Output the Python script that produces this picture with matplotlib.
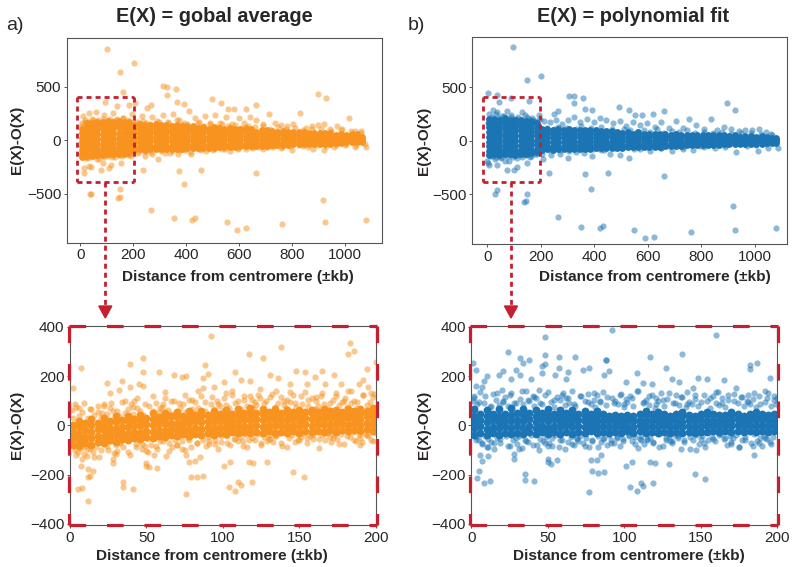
import numpy as np
import matplotlib
matplotlib.use('Agg')
import matplotlib.pyplot as plt
from matplotlib.lines import Line2D
from matplotlib.patches import Polygon

plt.rcParams['font.family'] = ['Liberation Sans', 'DejaVu Sans']
plt.rcParams['lines.scale_dashes'] = False

ORANGE = '#F7931E'
BLUE = '#1B75B5'
RED = '#C4202F'
DARK = '#2A2627'

# The dense bands can't be read dot by dot, so the core and edge values are
# estimates of the band. Outliers are read directly from the picture.

# top left panel, global average
a_out_x = [102,204,152,161,311,329,363,329,366,393,497,531,898,927,93,208,664,625,557,581,139,185,266,251,37,42,150,150,142,267,353,422,434,554,592,627,762,926,1079,919,392,372,455,236,664,13,14,40,78,110,118,154,86,33]
a_out_y = [855,724,637,451,507,497,482,420,358,342,382,345,435,395,361,345,333,295,289,292,320,333,326,298,-504,-504,-457,-525,-538,-653,-728,-743,-725,-762,-833,-821,-780,-765,-746,-557,-407,-283,-277,-277,-308,-255,-302,-246,-277,-258,-230,-208,-211,-240]
a_halo_x = [10,20,35,48,60,75,90,108,125,140,160,178,195,215,232,250,272,290,312,330,350,372,392,410,432,450,470,490,510,530,552,575,600,620,642,665,690,712,735,758,782,805,830,852,875,900,920,945,970,990,1015,1040,1060,8,28,52,72,95,120,148,172,192,222,245,268,295,320,345,368,395,420,448,475,505,535,565,595,625,655,690,725,760,800,840,880,920,960,1000,1040,1078]
a_halo_y = [225,170,255,190,265,160,235,180,255,195,210,175,245,175,225,160,215,180,240,170,250,190,160,275,205,170,225,165,240,160,215,150,205,165,215,185,150,245,165,145,130,150,255,115,135,140,155,110,135,110,205,90,70,-130,-165,-145,-175,-120,-155,-135,-115,-145,-110,-150,-105,-170,-120,-100,-130,-95,-125,-85,-100,-70,-85,-100,-70,-80,-65,-85,-60,-70,-95,-55,-85,-90,-65,-45,-60,-65]
a_core_x = [5,25,45,65,85,105,125,145,165,185,205,225,245,265,285,305,325,345,365,385,405,425,445,465,485,505,525,545,565,585,605,625,645,665,685,705,725,745,765,785,805,825,845,865,885,905,925,945,965,985,1005,1025,1045,1065]
a_core_y = [[-95,-55,-15,25,70,-130,110,-155],[-85,-45,-5,40,85,-120,125,-150,160],[-90,-40,5,50,100,-125,135,-150,165],[-75,-30,15,60,105,-110,140,-135,170],[-80,-35,10,55,110,-115,145,-140,175],[-70,-25,20,65,115,-105,150,-130,180],[-75,-30,15,55,105,-110,140,-130,170],[-65,-20,25,70,120,-100,150,-125,180],[-70,-25,20,60,110,-105,145,-125,175],[-60,-15,30,75,115,-95,150,-120,175],[-60,-20,25,70,110,-90,145],[-55,-15,30,70,115,-85,150],[-60,-15,25,65,105,-90,140],[-55,-10,30,75,110,-85,145],[-50,-10,35,70,115,-85,150],[-55,-15,25,65,105,-85,140],[-50,-5,35,75,110,-80,145],[-50,-10,30,70,100,-80,135],[-45,-5,40,75,110,-80,140],[-50,-5,30,65,100,-80,130],[-45,0,40,75,105,-75,135],[-45,-5,35,70,110,-75,135],[-40,0,40,80,-70,115],[-45,-5,30,65,95,-70,125],[-40,0,35,75,-70,110],[-40,5,45,85,-70,120],[-35,5,40,80,-65,115],[-40,0,35,70,-65,105],[-35,5,45,85,-60,115],[-35,0,35,75,-60,105],[-30,5,40,80,-55,110],[-30,10,50,85,-55,115],[-30,5,40,75,-55,105],[-25,10,45,-50,80],[-30,5,40,70,-50,100],[-25,10,45,75,-50,100],[-20,15,50,-45,85],[-25,10,45,-45,80],[-15,20,55,-40,85],[-20,15,45,-40,75],[-15,20,50,-35,80],[-15,15,45,-35,75],[-10,20,50,-35,75],[-15,15,45,-35,70],[-10,20,45,-30,70],[-10,15,40,-30,65],[-5,20,45,-30,70],[-10,15,40,-30,65],[-5,20,45,-25],[-5,20,40,-25,60],[0,25,50,-20],[0,25,45,-20,60],[0,20,40,-15,55],[-5,15,30,-15]]

# top right panel, polynomial fit
b_out_x = [97,199,147,4,35,44,88,157,305,325,359,324,364,390,494,529,895,924,660,620,263,248,552,577,30,35,147,144,138,263,350,420,431,550,588,623,760,924,1078,917,387,367,451,230,659,5,37,73,101,110,148,82,2,-2]
b_out_y = [870,602,568,441,422,363,394,373,419,419,398,351,295,289,317,289,348,286,273,252,273,248,236,236,-494,-463,-494,-559,-571,-711,-801,-814,-798,-835,-910,-894,-854,-835,-817,-609,-447,-311,-304,-304,-332,-230,-224,-270,-276,-248,-208,-189,-205,-190]
b_halo_x = [8,22,38,55,72,90,110,130,150,172,192,212,235,258,280,302,325,348,372,398,420,445,470,495,520,545,572,598,625,650,680,705,730,755,780,810,835,860,885,912,940,965,990,1015,1040,1065,12,30,50,68,88,112,135,160,185,210,240,270,300,330,360,392,425,460,495,530,570,610,650,690,730,770,810,850,890,930,970,1010,1050,1085]
b_halo_y = [250,285,270,230,275,220,200,270,225,190,235,180,175,190,155,190,220,170,205,170,210,195,160,185,140,170,150,165,130,170,120,180,120,205,150,110,205,95,125,105,90,95,100,110,85,50,-140,-170,-150,-185,-135,-160,-120,-150,-125,-170,-130,-120,-165,-110,-115,-145,-90,-120,-130,-160,-80,-95,-70,-95,-80,-85,-60,-70,-55,-105,-50,-95,-70,-65]
b_core_x = [5,25,45,65,85,105,125,145,165,185,205,225,245,265,285,305,325,345,365,385,405,425,445,465,485,505,525,545,565,585,605,625,645,665,685,705,725,745,765,785,805,825,845,865,885,905,925,945,965,985,1005,1025,1045,1065,1080]
b_core_y = [[-95,-50,-10,35,80,125,-130,165,200],[-90,-45,0,45,90,135,-125,170,205],[-100,-55,-10,30,75,120,-135,160,195],[-85,-40,5,50,95,140,-120,175,210],[-90,-45,-5,40,85,130,-125,165,195],[-95,-50,0,45,90,125,-130,160,190],[-85,-40,5,50,95,130,-120,165,195],[-90,-50,-5,35,80,125,-125,160,185],[-85,-40,0,45,85,120,-115,155,185],[-75,-35,5,50,90,-105,130,160],[-55,-15,30,70,-85,105],[-50,-10,35,75,-80,110],[-55,-15,25,65,-85,100],[-50,-10,30,70,-80,105],[-55,-15,25,65,-80,100],[-50,-10,35,75,-80,105],[-45,-5,30,70,-75,100],[-50,-10,30,65,-75,95],[-45,-5,35,70,-75,100],[-50,-10,25,65,-75,95],[-45,-5,30,70,-70,95],[-40,-5,35,65,-70,90],[-45,-10,30,60,-70,90],[-40,0,35,70,-65,90],[-45,-5,30,60,-65,85],[-40,0,35,-65,70],[-40,-5,25,60,-60,85],[-35,0,35,-60,65],[-40,-5,30,60,-60,80],[-30,5,35,-55,65],[-35,0,35,-55,65],[-30,5,40,-55,65],[-35,0,30,-55,60],[-30,5,35,-50,60],[-30,5,30,-50,55],[-25,5,35,-50,60],[-30,0,30,-50,55],[-25,5,35,-45,55],[-25,5,30,-45,55],[-20,10,35,-45,55],[-25,5,30,-40,50],[-20,5,35,-40,55],[-20,10,35,-40,50],[-20,10,30,-40,50],[-15,10,35,-35,50],[-20,5,30,-35,45],[-15,10,35,-35,50],[-15,10,-35,35],[-15,10,30,-35,45],[-15,5,25,-30,40],[-10,15,-30,35],[-10,10,30,-30,40],[-10,10,25,-25,35],[-10,10,-25,25],[-5,10,-20,25]]

# band edges of the top panels, both use the same distances
top_edge_x = [2,5,8,11,14,17,19,22,26,28,31,34,37,40,43,47,49,52,56,59,62,65,68,71,74,78,81,84,87,91,94,97,101,104,107,111,114,117,121,124,127,131,134,138,141,144,148,151,155,158,161,165,168,172,175,179,182,186,190,194,198,204,210,216,223,229,236,243,250,258,265,273,281,289,297,306,314,323,331,340,349,358,367,376,386,395,405,415,425,435,446,456,467,478,489,500,512,523,535,547,559,571,584,596,609,622,635,648,662,676,690,704,718,733,748,763,778,794,810,826,842,859,876,893,911,929,947,965,984,1003,1022,1041,1060,1075]
a_edge_y = [135,-130,160,-110,120,-145,185,-165,150,-125,175,-105,140,-150,195,-120,155,-135,170,-115,130,-170,190,-140,145,-110,165,-125,200,-155,135,-105,180,-145,150,-120,195,-100,160,-135,125,-160,185,-110,140,-130,175,-115,150,-150,205,-105,130,-125,165,-95,190,-140,145,-110,175,-95,135,-120,160,-85,180,-110,140,-90,155,-125,130,-80,170,-100,145,-85,160,-115,130,-75,185,-95,140,-80,150,-105,125,-70,165,-90,135,-75,150,-95,120,-65,155,-80,130,-60,145,-85,115,-55,135,-70,120,-60,130,-65,105,-50,120,-60,110,-55,115,-45,95,-65,105,-40,110,-50,90,-45,100,-35,85,-45,90,-30,95,-35,75,-30,80,-25,60,-20]
b_edge_y = [165,-120,200,-105,150,-140,225,-130,175,-110,245,-150,160,-95,210,-125,185,-165,145,-105,230,-135,170,-115,195,-145,155,-100,240,-125,180,-155,205,-110,150,-135,220,-95,165,-120,190,-150,145,-105,235,-130,175,-115,200,-90,155,-140,215,-110,170,-125,185,-100,150,-85,205,-120,95,-70,120,-90,85,-75,110,-60,130,-85,95,-65,115,-95,85,-60,105,-80,135,-70,90,-55,115,-75,100,-65,125,-85,90,-50,105,-70,85,-60,110,-55,95,-75,80,-50,100,-60,85,-45,105,-65,75,-50,90,-40,80,-55,95,-45,70,-50,85,-40,75,-35,80,-45,65,-35,70,-30,75,-40,60,-30,65,-25,55,-30,45,-20]

# bottom left panel, zoom on 0-200 kb
c_out_x = [92,138,183,182,186,117,126,48,39,88,7,48,58,68,73,76,90,108,148,154,165,173,131,136,194,200,24,34,2,32,26,39,45,48,87,87,94,101,112,118,124,144,155,160,167,177,189,192,195,12,5,8,35,35,41,76,79,83,87,104,108,110,112,119,146,153,12,13,15,12,7,101,105,78,82,85,117,120,129,50,50,57,52,28,28,63,55,76]
c_out_y = [362,319,335,292,302,292,273,273,251,245,232,216,216,205,197,202,210,218,221,218,222,203,203,194,231,258,171,179,151,143,132,156,167,160,192,150,156,175,186,181,146,170,170,195,170,170,170,184,156,-306,-258,-255,-231,-250,-258,-278,-208,-211,-204,-249,-268,-230,-242,-231,-188,-210,-208,-204,-184,-177,-166,-166,-150,-150,-143,-127,-147,-151,-150,-154,-166,-174,-170,-154,-136,-125,-122,-122]
c_halo_x = [3,6,9,13,18,22,27,31,36,41,44,49,54,59,62,66,71,75,80,84,88,93,97,102,106,110,114,119,123,127,131,135,140,144,147,151,156,161,165,170,174,179,184,188,192,197,4,8,11,16,20,24,30,33,38,43,47,51,56,61,65,70,73,78,83,91,95,99,103,108,113,116,121,125,130,134,138,142,149,155,159,163,168,172,176,181,186,190,194,198]
c_halo_y = [85,70,90,65,55,80,90,60,100,75,110,85,120,70,135,100,90,125,105,140,95,115,85,130,140,100,120,105,125,90,115,140,100,135,90,120,105,115,130,90,120,100,140,95,125,130,-120,-135,-95,-130,-100,-85,-115,-70,-110,-90,-75,-110,-85,-65,-105,-80,-95,-60,-70,-65,-75,-45,-70,-55,-65,-90,-60,-80,-55,-45,-70,-90,-60,-50,-40,-55,-30,-50,-75,-45,-60,-80,-40,-65]
c_core_x = [2,6,10,14,18,22,26,30,34,38,42,46,50,54,58,62,66,70,74,78,82,86,90,94,98,102,106,110,114,118,122,126,130,134,138,142,146,150,154,158,162,166,170,174,178,182,186,190,194,198]
c_core_y = [[-78,-50,-25,2],[-85,-60,-35,-8,18],[-72,-46,-20,8],[-78,-52,-26,0,24],[-68,-42,-16,10],[-70,-46,-20,6,30],[-60,-36,-10,18],[-66,-40,-14,12,36],[-56,-32,-6,20],[-60,-34,-8,18,40],[-50,-26,0,26],[-54,-30,-4,22,44],[-46,-22,4,30],[-50,-26,0,26,50],[-42,-18,8,34],[-46,-22,4,30,52],[-40,-16,10,36],[-44,-20,6,32,56],[-36,-12,14,40],[-42,-18,8,34,58],[-34,-10,16,42],[-40,-14,12,38,60],[-32,-8,18,44],[-38,-14,12,36,58],[-30,-6,20,46],[-36,-10,14,40,62],[-28,-4,22,48],[-32,-8,18,44,66],[-26,-2,24,50],[-30,-6,20,46,70],[-26,0,26,52],[-32,-6,20,46,68],[-24,2,28,54],[-30,-4,22,48,66],[-26,0,26,52],[-30,-6,20,46,64],[-24,2,28,54],[-30,-4,22,48,62],[-22,4,30,56],[-26,-2,24,50,64],[-22,4,28,54],[-26,0,26,50,66],[-20,6,32,58],[-26,0,24,50,64],[-18,8,32,56],[-24,2,28,52,66],[-18,8,34,58],[-24,2,26,50,68],[-16,10,36,60],[-22,4,28,54,70]]

# bottom right panel, zoom on 0-200 kb
d_out_x = [92,160,48,24,1,3,32,34,38,48,48,46,57,68,57,63,73,77,88,88,90,87,117,138,127,108,187,182,182,195,148,154,165,131,136,101,112,118,145,10,3,7,8,21,18,26,29,32,39,46,55,62,173,192,77,5,4,8,12,35,35,41,104,108,111,112,119,146,153,79,83,87,101,105,78,82,85,117,120,129,28,28,50,50,52,56,7,6,11,185]
d_out_y = [389,369,359,297,254,226,274,254,264,285,248,240,278,277,235,217,224,235,264,264,221,203,278,292,233,213,255,244,229,191,191,188,183,187,178,176,174,167,152,199,159,156,180,220,203,190,226,203,190,213,203,190,153,140,-271,-187,-214,-235,-228,-199,-221,-225,-251,-268,-235,-247,-235,-197,-217,-187,-193,-190,-164,-149,-142,-140,-122,-150,-153,-159,-118,-136,-136,-149,-156,-142,-145,-122,-125,-119]
d_halo_x = [2,5,9,13,17,21,25,29,33,37,41,45,50,54,59,63,67,71,76,80,84,89,93,97,100,105,109,113,116,121,125,129,133,137,141,146,150,156,160,164,168,172,177,181,185,189,193,198,3,7,11,15,19,24,31,36,40,44,48,53,58,61,66,69,74,79,83,86,91,95,99,103,107,111,115,119,123,127,131,135,139,143,147,152,158,162,166,170,175,179,184,188,192,196]
d_halo_y = [110,95,120,80,130,100,125,90,140,105,115,90,135,105,125,110,85,120,95,130,100,115,90,125,85,110,140,95,120,85,105,130,90,115,85,125,95,110,135,90,125,100,115,95,130,85,110,120,-60,-75,-90,-70,-55,-85,-95,-65,-80,-100,-70,-85,-60,-95,-75,-50,-85,-65,-90,-55,-70,-50,-65,-45,-75,-60,-55,-70,-90,-50,-65,-45,-60,-95,-100,-70,-55,-40,-50,-75,-90,-60,-85,-70,-50,-75]
d_core_x = [2,6,10,14,18,22,26,30,34,38,42,46,50,54,58,62,66,70,74,78,82,86,90,94,98,102,106,110,114,118,122,126,130,134,138,142,146,150,154,158,162,166,170,174,178,182,186,190,194,198]
d_core_y = [[-38,-12,14,40,66],[-30,-4,22,48],[-40,-14,12,38,64],[-32,-6,20,46],[-38,-12,14,40,68],[-30,-4,22,48],[-36,-10,16,42,70],[-30,-4,22,50],[-36,-10,16,42,68],[-28,-2,24,50],[-36,-12,14,40,64],[-28,-2,24,50],[-34,-10,16,42,66],[-28,-2,24,48],[-34,-8,18,42,64],[-26,0,24,50],[-34,-8,16,40,62],[-26,-2,22,46],[-32,-8,16,40,60],[-24,0,24,48],[-32,-6,18,42,60],[-26,-2,22,46],[-30,-6,16,40],[-26,-2,20,44],[-30,-8,14,38],[-24,-2,20,42],[-30,-6,16,38],[-24,0,22,46],[-30,-6,18,42,58],[-26,-2,22,46],[-30,-6,16,40,56],[-26,0,24,48],[-32,-8,16,40],[-26,-2,22,46],[-32,-8,14,38,54],[-28,-4,20,44],[-30,-6,16,40],[-26,-2,22,46],[-28,-4,18,42,56],[-24,0,22,46],[-28,-4,18,42],[-24,0,22,44],[-28,-4,16,40,54],[-22,2,24,46],[-28,-2,18,40],[-22,2,24,46],[-26,-2,20,42,54],[-22,2,24,46],[-26,-2,20,42],[-24,0,22,46]]

# band edges of the bottom panels, both use the same distances
low_edge_x = [1,3,2,5,4,7,6,9,8,10,12,11,14,13,16,15,18,17,20,19,21,23,22,25,24,27,26,29,28,30,32,31,34,33,36,35,38,37,40,39,41,43,42,45,44,47,46,49,48,50,52,51,54,53,56,55,58,57,60,59,61,63,62,65,64,67,66,69,68,70,72,71,74,73,76,75,78,77,80,79,81,83,82,85,84,87,86,89,88,90,92,91,94,93,96,95,98,97,100,99,101,103,102,105,104,107,106,109,108,110,112,111,114,113,116,115,118,117,120,119,121,123,122,125,124,127,126,129,128,130,132,131,134,133,136,135,138,137,140,139,141,143,142,145,144,147,146,149,148,150,152,151,154,153,156,155,158,157,160,159,161,163,162,165,164,167,166,169,168,170,172,171,174,173,176,175,178,177,180,179,181,183,182,185,184,187,186,189,188,190,192,191,194,193,196,195,198,197,199,200]
c_edge_y = [62,-100,28,-108,75,-92,40,-118,55,-85,30,-125,68,-95,42,-110,80,-88,35,-130,50,-70,88,-100,45,-62,72,-112,60,-78,38,-105,95,-68,52,-90,65,-58,85,-120,48,-75,100,-60,70,-95,58,-85,42,-105,78,-55,60,-80,92,-50,55,-98,75,-65,85,-48,110,-72,62,-90,48,-58,98,-78,70,-44,85,-65,55,-102,105,-52,66,-88,50,-70,95,-40,72,-60,118,-82,58,-48,88,-75,68,-38,100,-58,78,-95,60,-68,112,-42,82,-78,70,-55,125,-36,90,-65,66,-48,105,-85,78,-40,120,-60,72,-50,95,-34,84,-72,110,-46,68,-62,100,-38,128,-55,76,-68,92,-44,115,-30,82,-85,70,-52,105,-40,95,-66,125,-36,74,-58,88,-48,135,-32,80,-72,110,-44,68,-54,98,-92,78,-38,118,-60,88,-30,72,-48,105,-68,130,-40,84,-56,95,-34,112,-76,76,-46,140,-28,90,-62,100,-40,70,-50,122,-66,82,-36,96,-44,115,-58,128,-30,88,-70,105,-52,74,135]
d_edge_y = [100,-48,118,-60,85,-72,135,-45,92,-88,75,-55,128,-66,105,-95,82,-52,142,-70,95,-42,115,-84,78,-60,130,-50,90,-75,108,-44,85,-92,138,-58,98,-68,120,-40,80,-78,110,-55,145,-62,88,-48,125,-85,95,-70,76,-52,115,-40,102,-90,132,-58,84,-66,110,-46,92,-80,140,-54,78,-62,118,-42,98,-72,128,-50,86,-88,105,-60,75,-44,122,-68,94,-52,135,-78,82,-40,112,-58,100,-70,88,-48,126,-82,76,-56,108,-38,96,-64,118,-46,80,-92,138,-54,90,-42,104,-74,84,-60,125,-50,72,-68,112,-36,98,-85,130,-58,78,-44,106,-62,92,-72,122,-40,84,-52,116,-95,74,-66,134,-46,96,-58,88,-38,108,-76,80,-54,124,-42,100,-86,70,-60,118,-48,92,-64,136,-34,82,-56,110,-78,76,-44,102,-68,128,-50,90,-38,116,-90,78,-58,98,-46,124,-70,86,-36,108,-62,74,-52,120,-82,94,-42,132,-56,80,-66,104,-48,88,112]

W, H = 792, 567


def fx(px):
    return px / W


def fy(px):
    return 1 - px / H


def make_axes(left, top, right, bottom):
    return fig.add_axes([fx(left), fy(bottom), (right - left) / W, (bottom - top) / H])


def draw_points(ax, out_x, out_y, halo_x, halo_y, edge_x, edge_y, core_x, core_y, color, core_size):
    ax.scatter(out_x, out_y, s=20, color=color, alpha=0.5, linewidths=0)
    ax.scatter(halo_x, halo_y, s=20, color=color, alpha=0.5, linewidths=0)
    # the typed edge lists differ a little in length, pair them up to the shorter
    n = min(len(edge_x), len(edge_y))
    ax.scatter(edge_x[:n], edge_y[:n], s=20, color=color, alpha=0.5, linewidths=0)
    xs = [x for x, ys in zip(core_x, core_y) for _ in ys]
    ys = [y for col in core_y for y in col]
    ax.scatter(xs, ys, s=core_size, color=color, alpha=1.0, linewidths=0)


def style_axes(ax, xlim, ylim, xticks, yticks):
    ax.set_xlim(xlim)
    ax.set_ylim(ylim)
    ax.set_xticks(xticks)
    ax.set_yticks(yticks)
    ax.tick_params(labelsize=11, length=2.5, width=0.7, pad=1.5, color='#555555', labelcolor=DARK)
    for s in ax.spines.values():
        s.set_linewidth(0.8)
        s.set_color('#555555')


def red_line(xs, ys, on, off, lw):
    fig.add_artist(Line2D([fx(v) for v in xs], [fy(v) for v in ys], color=RED, lw=lw,
                          linestyle=(0, (on, off)), dash_capstyle='butt', zorder=10))


def red_box(x0, y0, x1, y1, on, off, lw):
    red_line([x0, x1], [y0, y0], on, off, lw)
    red_line([x0, x1], [y1, y1], on, off, lw)
    red_line([x0, x0], [y0, y1], on, off, lw)
    red_line([x1, x1], [y0, y1], on, off, lw)


fig = plt.figure(figsize=(W / 100, H / 100), dpi=100)

ax_a = make_axes(66.7, 37.5, 381.7, 242.7)
draw_points(ax_a, a_out_x, a_out_y, a_halo_x, a_halo_y, top_edge_x, a_edge_y, a_core_x, a_core_y, ORANGE, 24)
style_axes(ax_a, (-51, 1139), (-955, 959), [0, 200, 400, 600, 800, 1000], [-500, 0, 500])

ax_b = make_axes(472, 36.7, 786.7, 244.3)
draw_points(ax_b, b_out_x, b_out_y, b_halo_x, b_halo_y, top_edge_x, b_edge_y, b_core_x, b_core_y, BLUE, 24)
style_axes(ax_b, (-57, 1119), (-966, 969), [0, 200, 400, 600, 800, 1000], [-500, 0, 500])

ax_c = make_axes(70, 325.7, 375.7, 525)
draw_points(ax_c, c_out_x, c_out_y, c_halo_x, c_halo_y, low_edge_x, c_edge_y, c_core_x, c_core_y, ORANGE, 32)
style_axes(ax_c, (0, 200), (-405, 405), [0, 50, 100, 150, 200], [-400, -200, 0, 200, 400])

ax_d = make_axes(471.3, 325.7, 777.3, 525)
draw_points(ax_d, d_out_x, d_out_y, d_halo_x, d_halo_y, low_edge_x, d_edge_y, d_core_x, d_core_y, BLUE, 32)
style_axes(ax_d, (0, 200), (-405, 405), [0, 50, 100, 150, 200], [-400, -200, 0, 200, 400])

# red zoom boxes and arrows
red_box(77, 97, 134, 182, 3.6, 2.9, 2.0)
red_box(482.7, 97, 539.7, 182, 3.6, 2.9, 2.0)
red_box(68.5, 325.5, 376.5, 525, 12, 15, 2.3)
red_box(470, 325.5, 778, 525, 12, 15, 2.3)
for x in [105.3, 511]:
    red_line([x, x], [182, 306], 3.6, 2.9, 2.0)
    fig.add_artist(Polygon([[fx(x - 6.5), fy(306)], [fx(x + 6.5), fy(306)], [fx(x), fy(318)]],
                           closed=True, color=RED, transform=fig.transFigure, zorder=10))

# titles and labels
lab = dict(fontsize=11.1, fontweight='bold', color=DARK, ha='center', va='center')
fig.text(fx(214), fy(16), 'E(X) = gobal average', fontsize=14.3, fontweight='bold', color=DARK, ha='center', va='center')
fig.text(fx(633.5), fy(16), 'E(X) = polynomial fit', fontsize=14.3, fontweight='bold', color=DARK, ha='center', va='center')
fig.text(fx(6), fy(25), 'a)', fontsize=14, color=DARK, ha='left', va='center')
fig.text(fx(408), fy(25), 'b)', fontsize=14, color=DARK, ha='left', va='center')
for cx, cy in [(238, 277), (655, 277), (212, 556), (628.5, 556)]:
    fig.text(fx(cx), fy(cy), 'Distance from centromere (±kb)', **lab)
for cx, cy in [(17, 140), (424, 141), (17, 425), (424, 425)]:
    fig.text(fx(cx), fy(cy), 'E(X)-O(X)', rotation=90, **lab)

plt.savefig('out.png', dpi=100)
